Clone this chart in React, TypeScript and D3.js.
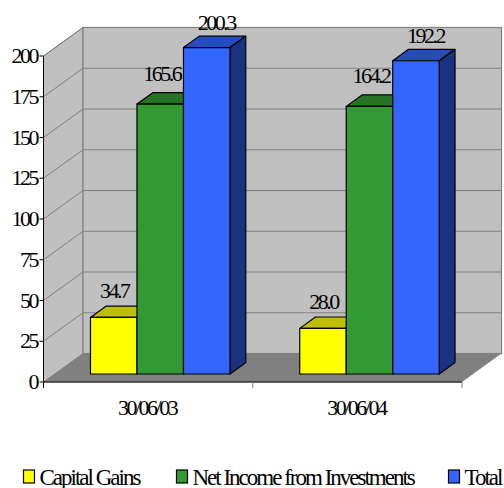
import React from "react";
import * as d3 from "d3";

const categories = ["30/06/03", "30/06/04"];
const seriesNames = ["Capital Gains", "Net Income from Investments", "Total"];
const capitalGains = [34.7, 28.0];
const netIncome = [165.6, 164.2];
const total = [200.3, 192.2];
const yTicks = [0, 25, 50, 75, 100, 125, 150, 175, 200];

const seriesValues = [capitalGains, netIncome, total];
const frontFill = ["#ffff00", "#339933", "#3366ff"];
const topFill = ["#bfbf00", "#267326", "#264dbf"];
const sideFill = ["#808000", "#1a4d1a", "#1a3380"];

// Per-series nudges for the value labels, which sit slightly off the bar centres
const labelDx = [0.5, 1.5, 9.5];
const labelDy = [19.5, 23.5, 18];

// Legend layout: swatch left edge for each entry
const legendX = [23.5, 176.5, 448.5];

const WIDTH = 504;
const HEIGHT = 488;
const FONT = "'Liberation Serif', 'Times New Roman', serif";

const plotLeft = 43.5;
const plotRight = 462;
const plotBottom = 382;
const plotTop = 56;

// Oblique projection: full floor depth, and the slab of it the bars occupy
const depthX = 39.5;
const depthY = -28.5;
const barNear = 0.28;
const barFar = 0.68;

const y = d3.scaleLinear().domain([0, 200]).range([plotBottom, plotTop]);
const x = d3.scaleBand<string>().domain(categories).range([plotLeft, plotRight]);
const xInner = d3
  .scaleBand<number>()
  .domain(seriesNames.map((_, i) => i))
  .range([0, x.bandwidth()])
  .paddingOuter(0.75)
  .paddingInner(0)
  .align(0.515);

const poly = (pts: [number, number][]) => d3.line()(pts) + "Z";

function Bar({ cat, s, value }: { cat: string; s: number; value: number }) {
  const nearX = depthX * barNear;
  const nearY = depthY * barNear;
  const dx = depthX * (barFar - barNear);
  const dy = depthY * (barFar - barNear);
  const x0 = (x(cat) as number) + (xInner(s) as number) + nearX;
  const x1 = x0 + xInner.bandwidth();
  const yTop = y(value) + nearY;
  const yBase = y(0) + nearY;
  const outline = { stroke: "#000", strokeWidth: 1.2, strokeLinejoin: "round" as const };
  return (
    <g>
      <path
        d={poly([[x0, yTop], [x1, yTop], [x1 + dx, yTop + dy], [x0 + dx, yTop + dy]])}
        fill={topFill[s]}
        {...outline}
      />
      <path
        d={poly([[x1, yTop], [x1 + dx, yTop + dy], [x1 + dx, yBase + dy], [x1, yBase]])}
        fill={sideFill[s]}
        {...outline}
      />
      <rect x={x0} y={yTop} width={x1 - x0} height={yBase - yTop} fill={frontFill[s]} {...outline} />
    </g>
  );
}

export default function App() {
  const textStyle = { fontFamily: FONT, fontSize: 22, letterSpacing: "-2.5px", fill: "#000" };
  const legendStyle = { fontFamily: FONT, fontSize: 23, letterSpacing: "-2px", fill: "#000" };
  const categoryTicks = [...categories.map((c) => x(c) as number), plotRight];
  return (
    <svg
      width={WIDTH}
      height={HEIGHT}
      viewBox={`0 0 ${WIDTH} ${HEIGHT}`}
      style={{ position: "absolute", left: 0, top: 0, background: "#fff" }}
    >
      {/* Side wall, back wall and floor */}
      <path
        d={poly([[plotLeft, plotTop], [plotLeft + depthX, plotTop + depthY], [plotLeft + depthX, plotBottom + depthY], [plotLeft, plotBottom]])}
        fill="#c0c0c0"
        stroke="#808080"
        strokeWidth={1}
      />
      <rect
        x={plotLeft + depthX}
        y={plotTop + depthY}
        width={plotRight - plotLeft}
        height={plotBottom - plotTop}
        fill="#c0c0c0"
        stroke="#808080"
        strokeWidth={1.2}
      />
      <path
        d={poly([[plotLeft, plotBottom], [plotRight, plotBottom], [plotRight + depthX, plotBottom + depthY], [plotLeft + depthX, plotBottom + depthY]])}
        fill="#808080"
      />

      {/* Gridlines wrap from the side wall onto the back wall */}
      {yTicks.slice(1).map((t) => (
        <path
          key={t}
          d={d3.line()([[plotLeft, y(t)], [plotLeft + depthX, y(t) + depthY], [plotRight + depthX, y(t) + depthY]]) as string}
          fill="none"
          stroke="#808080"
          strokeWidth={1}
        />
      ))}

      {/* Bars */}
      {categories.map((c, ci) => (
        <g key={c}>
          {seriesValues.map((vals, s) => (
            <Bar key={s} cat={c} s={s} value={vals[ci]} />
          ))}
        </g>
      ))}

      {/* Axes */}
      <line x1={plotLeft} x2={plotLeft} y1={plotTop} y2={plotBottom + 6} stroke="#000" strokeWidth={1} />
      <line x1={plotLeft} x2={plotRight} y1={plotBottom} y2={plotBottom} stroke="#333" strokeWidth={1.4} />
      {yTicks.map((t) => (
        <g key={t}>
          <line x1={plotLeft - 4} x2={plotLeft} y1={y(t)} y2={y(t)} stroke="#000" />
          <text x={plotLeft - 6.5} y={y(t) + 7} textAnchor="end" style={textStyle}>
            {t}
          </text>
        </g>
      ))}
      {categoryTicks.slice(1).map((tx) => (
        <line key={tx} x1={tx} x2={tx} y1={plotBottom} y2={plotBottom + 6} stroke="#808080" />
      ))}
      {categories.map((c) => (
        <text
          key={c}
          x={(x(c) as number) + x.bandwidth() / 2 - 1}
          y={415}
          textAnchor="middle"
          style={textStyle}
        >
          {c}
        </text>
      ))}

      {/* Value labels */}
      {categories.map((c, ci) =>
        seriesValues.map((vals, s) => (
          <text
            key={`${c}-${s}`}
            x={(x(c) as number) + (xInner(s) as number) + xInner.bandwidth() / 2 + depthX * barNear + labelDx[s]}
            y={y(vals[ci]) + depthY * barNear - labelDy[s]}
            textAnchor="middle"
            style={textStyle}
          >
            {vals[ci].toFixed(1)}
          </text>
        ))
      )}

      {/* Legend */}
      {seriesNames.map((name, s) => (
        <g key={name}>
          <rect x={legendX[s]} y={470} width={11} height={13} fill={frontFill[s]} stroke="#000" strokeWidth={1.2} />
          <text x={legendX[s] + 16} y={484.5} style={legendStyle}>
            {name}
          </text>
        </g>
      ))}
    </svg>
  );
}
